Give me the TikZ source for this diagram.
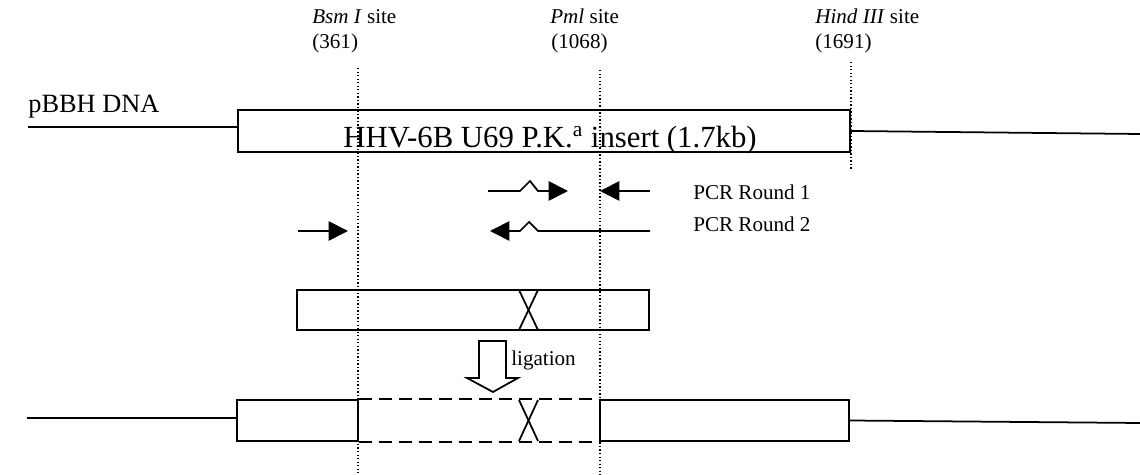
\documentclass[tikz,border=0pt]{standalone}
\usepackage{fontspec}
\setmainfont{Liberation Serif}
\usetikzlibrary{arrows.meta,positioning}

\tikzset{
	dnabox/.style={draw,line width=1pt,inner sep=0pt,minimum height=0.82cm},
	dnaline/.style={line width=1pt},
	sitecut/.style={line width=0.8pt,dash pattern=on 0.8pt off 1.2pt},
	primer/.style={line width=1pt,-{Triangle[length=11pt,width=11pt]}},
	joined/.style={line width=1pt,dash pattern=on 7.4pt off 4pt},
	smalllab/.style={font=\fontsize{12}{14}\selectfont,inner sep=0pt},
}

\begin{document}
\begin{tikzpicture}[x=0.02cm,y=-0.02cm]
	\useasboundingbox (0,0) rectangle (1140,475);

	%pBBH vector with insert
	\node[anchor=base west,inner sep=0pt,font=\fontsize{15}{18}\selectfont] at (28,113) (vec) {pBBH DNA};
	\node[dnabox,minimum width=12.24cm,minimum height=0.84cm] at (544,131) (ins) {};
	\node[anchor=base,inner sep=0pt,font=\fontsize{17.5}{20}\selectfont] at (550,148) (inslab) {HHV-6B U69 P.K.\textsuperscript{a} insert (1.7kb)};
	\coordinate (tl) at (28,127);
	\coordinate (tr) at (1140,134);
	\draw[dnaline] (tl) -- (tl -| ins.west);
	\draw[dnaline] (ins.east) -- (tr);

	%restriction sites
	\coordinate (bsmtop) at (358,68);
	\coordinate (bsmbot) at (358,475);
	\coordinate (pmltop) at (600,70);
	\coordinate (pmlbot) at (600,475);
	\coordinate (hindtop) at (851,62);
	\coordinate (hindbot) at (851,170);
	\draw[sitecut] (bsmtop) -- (bsmbot);
	\draw[sitecut] (pmltop) -- (pmlbot);
	\draw[sitecut] (hindtop) -- (hindbot);
	\node[smalllab,anchor=base west] at (312,24) (bsm) {\textit{Bsm I} site};
	\node[smalllab,anchor=base west] at (312,49) (bsmpos) {(361)};
	\node[smalllab,anchor=base west] at (550,24) (pml) {\textit{Pml} site};
	\node[smalllab,anchor=base west] at (551,49) (pmlpos) {(1068)};
	\node[smalllab,anchor=base west] at (815,24) (hind) {\textit{Hind III} site};
	\node[smalllab,anchor=base west] at (815,49) (hindpos) {(1691)};

	%PCR primers
	\coordinate (fa) at (488,191);
	\coordinate (fb) at (568,191);
	\coordinate (ra) at (650,191);
	\coordinate (rb) at (600,191);
	\coordinate (fc) at (298,231);
	\coordinate (fd) at (348,231);
	\coordinate (rc) at (650,231);
	\coordinate (rd) at (490,231);
	\draw[primer] (fa) -- ++(32,0) -- ++(10,-10) -- ++(8,10) -- (fb);
	\draw[primer] (ra) -- (rb);
	\draw[primer] (fc) -- (fd);
	\draw[primer] (rc) -- (538,231) -- ++(-9,-9) -- ++(-9,9) -- (rd);
	\node[smalllab,anchor=base west] at (693,200) (round1) {PCR Round 1};
	\node[smalllab,anchor=base west] at (693,232) (round2) {PCR Round 2};

	%PCR product
	\node[dnabox,minimum width=7.04cm,minimum height=0.8cm] at (473,310) (prod) {};
	\draw[line width=1pt] (519,290) -- (538,330);
	\draw[line width=1pt] (538,290) -- (519,330);

	%ligation
	\draw[line width=1pt] (479,341) -- (506,341) -- (506,378) -- (518,378) -- (493,392)
		-- (467,378) -- (479,378) -- cycle;
	\node[smalllab,anchor=base west] at (511,366) (lig) {ligation};

	%final construct
	\node[dnabox,minimum width=2.42cm] at (297.5,420.5) (lbox) {};
	\node[dnabox,minimum width=4.98cm] at (724.5,420.5) (rbox) {};
	\coordinate (bl) at (27,418);
	\coordinate (br) at (1140,423);
	\draw[dnaline] (bl) -- (bl -| lbox.west);
	\draw[dnaline] (rbox.east) -- (br);
	\draw[joined] (lbox.north east) -- (rbox.north west);
	\draw[joined] (lbox.south east) -- (rbox.south west);
	\draw[line width=1pt] (519,400) -- (538,441);
	\draw[line width=1pt] (538,400) -- (519,441);

\end{tikzpicture}
\end{document}
